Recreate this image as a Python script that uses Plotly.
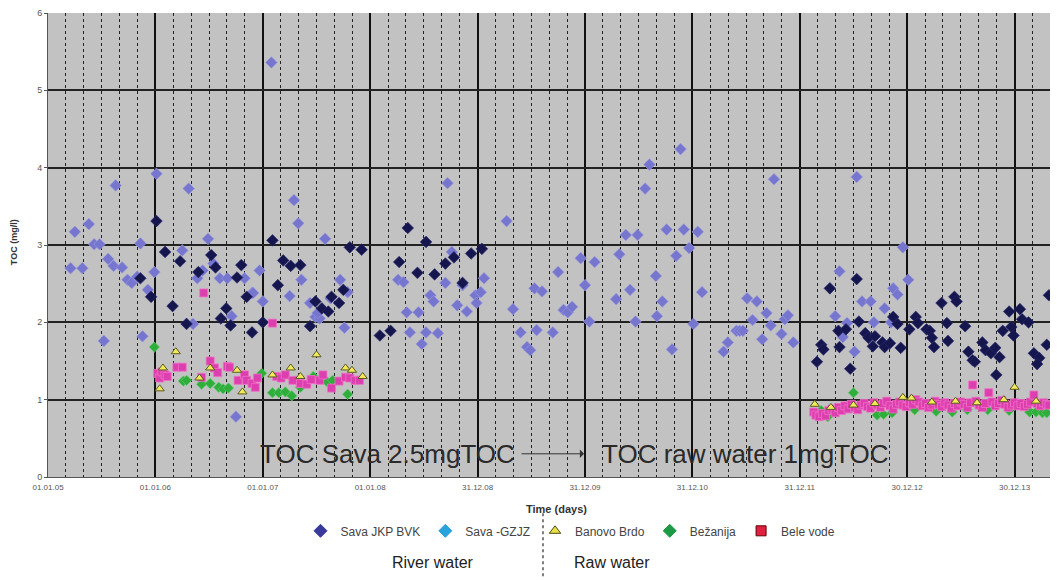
import plotly.graph_objects as go

# ---------------- data (decimal years, TOC mg/l) ----------------
gzjz_x = [2005.21, 2005.32, 2005.25, 2005.38, 2005.43, 2005.48, 2005.56, 2005.61, 2005.69, 2005.52,
          2005.63, 2005.74, 2005.78, 2005.83, 2005.86, 2005.93, 2005.99, 2006.01, 2005.88, 2006.31,
          2006.25, 2006.39, 2006.44, 2006.49, 2006.54, 2006.60, 2006.67, 2006.83, 2006.71, 2006.75,
          2006.35, 2006.90, 2007.08, 2007.29, 2007.33, 2007.58, 2006.97, 2006.91, 2007.00, 2007.25,
          2007.36, 2007.44, 2007.49, 2007.53, 2007.51, 2007.63, 2007.72, 2007.79, 2007.76, 2008.72,
          2008.26, 2008.31, 2008.34, 2008.45, 2008.37, 2008.48, 2008.52, 2008.63, 2008.56, 2008.59,
          2008.70, 2008.76, 2008.81, 2009.27, 2009.06, 2008.86, 2008.98, 2009.03, 2008.99, 2008.90,
          2009.33, 2009.40, 2009.46, 2009.49, 2009.53, 2009.60, 2009.55, 2009.70, 2009.75, 2009.80,
          2009.84, 2009.88, 2009.96, 2010.00, 2010.04, 2010.09, 2010.29, 2010.32, 2010.38, 2010.42,
          2010.47, 2010.49, 2010.56, 2010.60, 2010.66, 2010.67, 2010.72, 2010.89, 2010.76, 2010.92,
          2011.05, 2010.97, 2010.85, 2011.09, 2011.01, 2010.81, 2011.76, 2011.29, 2011.33, 2011.41,
          2011.44, 2011.47, 2011.51, 2011.60, 2011.56, 2011.65, 2011.69, 2011.73, 2011.83, 2011.86,
          2011.89, 2011.94, 2012.37, 2012.33, 2012.40, 2012.51, 2012.53, 2012.96, 2013.01, 2012.87,
          2012.91, 2012.58, 2012.66, 2012.79, 2012.69, 2012.85, 2012.44]
gzjz_y = [2.70, 2.70, 3.17, 3.27, 3.01, 3.01, 2.82, 2.73, 2.71, 1.76,
          3.77, 2.55, 2.51, 2.59, 3.02, 2.42, 2.65, 3.92, 1.82, 3.73,
          2.93, 2.57, 2.67, 3.08, 2.76, 2.57, 2.57, 2.57, 2.08, 0.78,
          1.98, 2.38, 5.36, 3.58, 3.28, 3.08, 2.67, 2.38, 2.27, 2.34,
          2.55, 2.25, 2.07, 2.05, 2.12, 2.31, 2.55, 2.39, 1.93, 3.80,
          2.55, 2.52, 2.13, 2.13, 1.87, 1.72, 1.87, 1.86, 2.35, 2.27,
          2.51, 2.91, 2.22, 3.31, 2.57, 2.48, 2.35, 2.39, 2.25, 2.14,
          2.17, 1.87, 1.68, 1.64, 2.44, 2.40, 1.90, 1.87, 2.65, 2.16,
          2.13, 2.20, 2.83, 2.48, 2.01, 2.78, 2.30, 2.88, 3.13, 2.42,
          2.01, 3.13, 3.73, 4.04, 2.60, 2.08, 2.27, 4.24, 3.20, 3.20,
          3.17, 2.96, 2.86, 2.39, 1.98, 1.65, 3.85, 1.62, 1.74, 1.89,
          1.89, 1.89, 2.31, 2.27, 2.03, 1.78, 2.12, 1.96, 1.85, 2.04,
          2.09, 1.74, 2.66, 2.08, 1.81, 1.62, 3.88, 2.97, 2.55, 2.44,
          2.36, 2.27, 2.27, 2.18, 2.00, 2.00, 1.99]

bvk_x = [2006.01, 2005.86, 2005.96, 2006.09, 2006.23, 2006.16, 2006.29, 2006.40, 2006.52, 2006.56,
         2006.80, 2006.76, 2006.66, 2006.61, 2006.70, 2006.85, 2006.90, 2007.00, 2007.09, 2007.14,
         2007.19, 2007.26, 2007.35, 2007.44, 2007.49, 2007.55, 2007.61, 2007.64, 2007.71, 2007.75,
         2007.81, 2007.92, 2008.09, 2008.19, 2008.35, 2008.27, 2008.44, 2008.52, 2008.60, 2008.70,
         2008.78, 2008.86, 2008.94, 2009.04,
         2012.28, 2012.53, 2012.55, 2012.16, 2012.20, 2012.22, 2012.36, 2012.43, 2012.37, 2012.47,
         2012.61, 2012.64, 2012.70, 2012.68, 2012.77, 2012.79, 2012.84, 2012.87, 2012.91, 2012.94,
         2013.02, 2013.08, 2013.10, 2013.18, 2013.21, 2013.23, 2013.25, 2013.32, 2013.37, 2013.38,
         2013.44, 2013.46, 2013.54, 2013.57, 2013.61, 2013.63, 2013.70, 2013.73, 2013.78, 2013.82,
         2013.86, 2013.83, 2013.89, 2013.97, 2013.99, 2013.95, 2014.05, 2014.07, 2014.13, 2014.18,
         2014.23, 2014.21, 2014.30, 2014.32]
bvk_y = [3.31, 2.57, 2.33, 2.91, 2.79, 2.21, 1.98, 2.65, 2.87, 2.71,
         2.74, 2.58, 2.18, 2.05, 1.96, 2.33, 1.87, 2.00, 3.06, 2.48,
         2.80, 2.73, 2.74, 1.95, 2.27, 2.18, 2.14, 2.33, 2.25, 2.42,
         2.97, 2.94, 1.83, 1.89, 3.22, 2.78, 2.64, 3.04, 2.62, 2.76,
         2.84, 2.51, 2.89, 2.95,
         2.44, 2.56, 2.01, 1.49, 1.71, 1.65, 1.89, 1.91, 1.68, 1.40,
         1.86, 1.80, 1.82, 1.69, 1.74, 1.68, 1.73, 2.07, 1.98, 1.67,
         1.91, 2.07, 1.99, 1.91, 1.89, 1.80, 1.68, 2.25, 1.99, 1.76,
         2.33, 2.27, 1.95, 1.62, 1.51, 1.49, 1.74, 1.64, 1.60, 1.67,
         1.55, 1.32, 1.89, 1.94, 1.83, 2.14, 2.17, 2.04, 2.00, 1.60,
         1.54, 1.46, 1.71, 2.35]

banovo_x = [2006.04, 2006.07, 2006.19, 2006.41, 2006.51, 2006.76, 2006.81, 2007.09, 2007.26, 2007.35,
            2007.50, 2007.77, 2007.83, 2007.93,
            2012.14, 2012.29, 2012.50, 2012.70, 2012.96, 2013.04, 2013.23, 2013.45, 2013.65, 2013.90,
            2014.00, 2014.20]
banovo_y = [1.14, 1.41, 1.62, 1.28, 1.41, 1.38, 1.10, 1.32, 1.41, 1.30,
            1.58, 1.41, 1.38, 1.30,
            0.94, 0.90, 0.93, 0.95, 1.03, 1.02, 0.97, 0.98, 0.96, 1.00,
            1.16, 0.98]

bezanija_x = [2005.99, 2006.26, 2006.29, 2006.43, 2006.51, 2006.59, 2006.63, 2006.68, 2006.99, 2007.09,
              2007.15, 2007.21, 2007.27, 2007.35, 2007.47, 2007.60, 2007.65, 2007.79,
              2012.20, 2012.26, 2012.40, 2012.50, 2012.72, 2012.78, 2012.86, 2013.07, 2013.27, 2013.42,
              2013.56, 2013.75, 2013.95, 2014.14, 2014.20, 2014.26, 2014.30]
bezanija_y = [1.68, 1.24, 1.25, 1.20, 1.21, 1.16, 1.14, 1.15, 1.34, 1.09,
              1.09, 1.10, 1.05, 1.16, 1.30, 1.23, 1.25, 1.07,
              0.86, 0.78, 0.88, 1.09, 0.80, 0.81, 0.83, 0.87, 0.85, 0.84,
              0.87, 0.87, 0.86, 0.84, 0.84, 0.83, 0.83]

bele_x = [2006.02, 2006.04, 2006.06, 2006.09, 2006.11, 2006.20, 2006.25, 2006.43, 2006.45, 2006.51,
          2006.55, 2006.58, 2006.67, 2006.69, 2006.77, 2006.83, 2006.85, 2006.90, 2006.93, 2006.95,
          2007.09, 2007.13, 2007.17, 2007.21, 2007.28, 2007.35, 2007.41, 2007.45, 2007.53, 2007.56,
          2007.64, 2007.71, 2007.77, 2007.81, 2007.86, 2007.90,
          2012.13, 2012.15, 2012.18, 2012.21, 2012.24, 2012.27, 2012.30, 2012.33, 2012.36, 2012.39,
          2012.42, 2012.45, 2012.48, 2012.51, 2012.54, 2012.57, 2012.60, 2012.63, 2012.66, 2012.69,
          2012.72, 2012.75, 2012.78, 2012.81, 2012.84, 2012.87, 2012.90, 2012.93, 2012.96, 2012.99,
          2013.02, 2013.05, 2013.08, 2013.11, 2013.14, 2013.17, 2013.20, 2013.23, 2013.26, 2013.29,
          2013.32, 2013.35, 2013.38, 2013.41, 2013.44, 2013.47, 2013.50, 2013.53, 2013.56, 2013.59,
          2013.61, 2013.64, 2013.67, 2013.70, 2013.73, 2013.76, 2013.79, 2013.82, 2013.85, 2013.88,
          2013.91, 2013.94, 2013.97, 2014.00, 2014.03, 2014.06, 2014.09, 2014.12, 2014.15, 2014.18,
          2014.21, 2014.24, 2014.27, 2014.30, 2014.32]
bele_y = [1.34, 1.28, 1.36, 1.32, 1.30, 1.42, 1.42, 1.29, 2.38, 1.50,
          1.41, 1.35, 1.43, 1.42, 1.25, 1.32, 1.25, 1.21, 1.16, 1.28,
          1.99, 1.30, 1.28, 1.32, 1.25, 1.21, 1.20, 1.26, 1.25, 1.32,
          1.15, 1.24, 1.29, 1.28, 1.25, 1.25,
          0.84, 0.80, 0.78, 0.82, 0.79, 0.86, 0.88, 0.83, 0.90, 0.86,
          0.92, 0.88, 0.94, 0.90, 0.87, 0.93, 0.95, 0.91, 0.89, 0.96,
          0.93, 0.90, 0.95, 0.98, 0.92, 0.88, 0.94, 0.97, 0.93, 0.91,
          0.96, 0.94, 1.00, 0.97, 0.92, 0.95, 0.90, 0.93, 0.98, 0.94,
          0.91, 0.96, 0.93, 0.89, 0.95, 0.92, 0.97, 0.94, 0.90, 0.96,
          1.19, 0.98, 0.93, 0.90, 0.95, 1.09, 0.97, 0.92, 0.95, 0.99,
          0.94, 0.90, 0.93, 0.96, 0.92, 0.95, 0.91, 0.94, 0.97, 1.06,
          0.95, 0.92, 0.96, 0.94, 0.93]

tick_vals = [2005, 2006, 2007, 2008, 2009, 2010, 2011, 2012, 2013, 2014]
tick_text = ["01.01.05", "01.01.06", "01.01.07", "01.01.08", "31.12.08",
             "31.12.09", "31.12.10", "31.12.11", "30.12.12", "30.12.13"]

FONT = "Arial, Liberation Sans, sans-serif"

fig = go.Figure()

# data traces (not in legend)
fig.add_trace(go.Scatter(x=gzjz_x, y=gzjz_y, mode="markers", showlegend=False,
                         marker=dict(symbol="diamond", size=9, color="#7676cf",
                                     line=dict(width=0.6, color="#9a9ae0"))))
fig.add_trace(go.Scatter(x=bvk_x, y=bvk_y, mode="markers", showlegend=False,
                         marker=dict(symbol="diamond", size=9, color="#16164e",
                                     line=dict(width=0.6, color="#2a2a70"))))
fig.add_trace(go.Scatter(x=bezanija_x, y=bezanija_y, mode="markers", showlegend=False,
                         marker=dict(symbol="diamond", size=8, color="#2fae3c",
                                     line=dict(width=0.6, color="#5fd070"))))
fig.add_trace(go.Scatter(x=bele_x, y=bele_y, mode="markers", showlegend=False,
                         marker=dict(symbol="square", size=8, color="#dd3fae",
                                     line=dict(width=0.8, color="#f070c8"))))
fig.add_trace(go.Scatter(x=banovo_x, y=banovo_y, mode="markers", showlegend=False,
                         marker=dict(symbol="triangle-up", size=8, color="#f2ea5a",
                                     line=dict(width=1, color="#5a5a20"))))

# legend entries
legend_items = [("Sava JKP BVK", "diamond", "#3a3a9c", "#3a3a9c"),
                ("Sava -GZJZ", "diamond", "#2aa2dc", "#2aa2dc"),
                ("Banovo Brdo", "triangle-up", "#e8e04a", "#4a4a10"),
                ("Bežanija", "diamond", "#1c9a46", "#1c9a46"),
                ("Bele vode", "square", "#e02040", "#600000")]
for name, sym, col, lcol in legend_items:
    fig.add_trace(go.Scatter(x=[None], y=[None], mode="markers", name=name,
                             marker=dict(symbol=sym, size=10, color=col,
                                         line=dict(width=1, color=lcol))))

fig.update_layout(
    width=1057, height=580,
    margin=dict(l=48, r=7, t=13, b=103),
    paper_bgcolor="white",
    plot_bgcolor="#c2c2c2",
    font=dict(family=FONT, color="#333"),
    showlegend=True,
    legend=dict(orientation="h", x=0.252, xanchor="left", y=-0.116, yanchor="middle",
                font=dict(size=12, color="#444"), bgcolor="rgba(0,0,0,0)",
                itemwidth=30, tracegroupgap=0),
    xaxis=dict(range=[2005, 2014.33], tickvals=tick_vals, ticktext=tick_text,
               tickfont=dict(size=8, color="#555"), showgrid=True,
               gridcolor="#111", gridwidth=2, zeroline=False,
               showline=True, linecolor="#555", linewidth=1,
               ticks="", ticklabelstandoff=2,
               minor=dict(tick0=2005, dtick=1/6, showgrid=True, gridcolor="#222",
                          gridwidth=1, griddash="dot")),
    yaxis=dict(range=[0, 6], dtick=1, tickfont=dict(size=9, color="#555"),
               showgrid=True, gridcolor="#222", gridwidth=1.5, zeroline=False,
               showline=True, linecolor="#555", linewidth=1,
               ticks="outside", ticklen=3, tickcolor="#555"),
    annotations=[
        dict(text="TOC Sava 2.5mgTOC", xref="paper", yref="paper", x=0.339, y=0.05,
             showarrow=False, font=dict(size=26, color="#2a2a2a"), xanchor="center", yanchor="middle"),
        dict(text="TOC raw water 1mgTOC", xref="paper", yref="paper", x=0.696, y=0.05,
             showarrow=False, font=dict(size=26, color="#2a2a2a"), xanchor="center", yanchor="middle"),
        dict(text="", xref="paper", yref="paper", x=0.535, y=0.05, ax=-64, ay=0,
             showarrow=True, arrowhead=1, arrowsize=1.4, arrowwidth=1, arrowcolor="#333"),
        dict(text="<b>Time (days)</b>", xref="paper", yref="paper", x=0.507, y=-0.069,
             showarrow=False, font=dict(size=11, color="#333"), xanchor="center", yanchor="middle"),
        dict(text="<b>TOC (mg/l)</b>", xref="paper", yref="paper", x=-0.034, y=0.506,
             textangle=-90, showarrow=False, font=dict(size=9, color="#333"),
             xanchor="center", yanchor="middle"),
        dict(text="River water", xref="paper", yref="paper", x=0.384, y=-0.185,
             showarrow=False, font=dict(size=16, color="#222"), xanchor="center", yanchor="middle"),
        dict(text="Raw water", xref="paper", yref="paper", x=0.563, y=-0.185,
             showarrow=False, font=dict(size=16, color="#222"), xanchor="center", yanchor="middle"),
    ],
    shapes=[
        dict(type="line", xref="paper", yref="paper", x0=0.494, x1=0.494, y0=-0.078, y1=-0.218,
             line=dict(color="#555", width=1.5, dash="dot")),
    ],
)

fig.write_html("out.html")
